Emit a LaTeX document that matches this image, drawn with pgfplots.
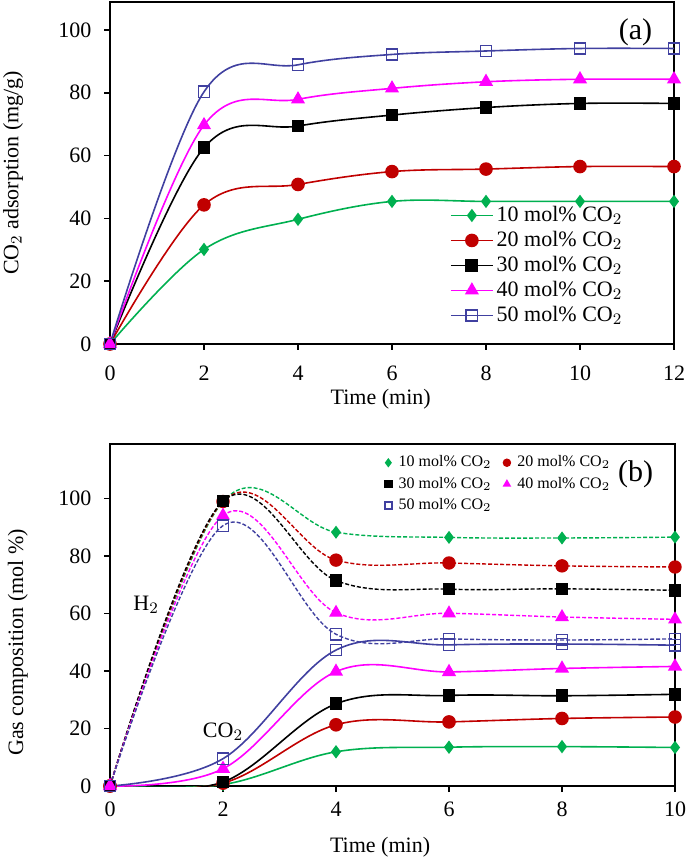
\documentclass[border=0pt]{standalone}
\usepackage{fontspec}
\setmainfont{Liberation Serif}
\usepackage{pgfplots}
\usepackage{pgfplotstable}
\pgfplotsset{compat=1.18}

\definecolor{cgreen}{RGB}{0,176,80}
\definecolor{cred}{RGB}{192,0,0}
\definecolor{cmag}{RGB}{255,0,255}
\definecolor{cblue}{RGB}{64,64,160}

% (a) CO2 adsorption, mg/g
\pgfplotstableread{
t   c10  c20  c30  c40  c50
0   0    0    0    0    0
2   30.1 44.3 62.5 69.7 80.3
4   39.7 50.8 69.4 77.9 88.9
6   45.4 54.9 72.9 81.4 92.2
8   45.4 55.7 75.3 83.5 93.3
10  45.4 56.5 76.6 84.3 94.1
12  45.4 56.5 76.6 84.3 94.1
}\adsorp

% (b) outlet CO2, mol %
\pgfplotstableread{
t   c10  c20  c30  c40  c50
0   0    0    0    0    0
2   0.5  1.0  1.4  6.0  9.5
4   11.9 21.3 28.6 39.8 47.3
6   13.5 22.3 31.5 39.7 49.1
8   13.7 23.5 31.4 40.9 49.4
10  13.4 24.0 31.9 41.6 49.0
}\gasco

% (b) outlet H2, mol %
\pgfplotstableread{
t   c10  c20  c30  c40  c50
0   0    0    0    0    0
2   99.0 99.0 99.1 94.1 90.6
4   88.3 78.6 71.5 60.3 52.8
6   86.5 77.6 68.5 60.1 51.2
8   86.3 76.6 68.6 58.8 50.8
10  86.6 76.2 68.1 58.0 51.2
}\gash

\pgfplotsset{
  panel/.style={
    scale only axis,
    width=282pt, height=171pt,
    xmin=0, ymin=0,
    axis line style={line width=0.8pt},
    tick align=outside, tick pos=left,
    major tick length=3pt,
    tick style={line width=0.8pt, black},
    ytick={0,20,...,100},
    yticklabel style={xshift=-2.5pt},
    /pgf/number format/assume math mode=true,
    ylabel style={anchor=center},
    xlabel style={anchor=center},
  },
  s10/.style={cgreen, line width=0.8pt, mark=diamond*, mark size=2.7pt, mark options={solid, fill=cgreen}},
  s20/.style={cred, line width=0.8pt, mark=*, mark size=3pt, mark options={solid, fill=cred}},
  s30/.style={black, line width=0.8pt, mark=square*, mark size=2.8pt, mark options={solid, fill=black}},
  s40/.style={cmag, line width=0.8pt, mark=triangle*, mark size=3.3pt, mark options={solid, fill=cmag}},
  s50/.style={cblue, line width=0.8pt, mark=square, mark size=2.8pt, mark options={solid, fill=white}},
  dsh/.style={dash pattern=on 2pt off 1pt, line width=0.7pt},
}

\begin{document}
\fontsize{11}{13}\selectfont
\begin{tikzpicture}
\useasboundingbox (0,0) rectangle (342.5pt,-430.5pt);

% ---------- (a) ----------
\begin{axis}[
  panel,
  at={(55pt,-1pt)}, anchor=north west,
  xmax=12, ymax=108.9,
  xtick={0,2,...,12},
  xticklabel style={yshift=-4pt},
  xlabel={Time (min)},
  ylabel={CO$_2$ adsorption (mg/g)},
  xlabel style={at={(axis description cs:0.48,-0.162)}},
  ylabel style={at={(axis description cs:-0.172,0.5)}},
  legend style={at={(0.925,0.035)}, anchor=south east, draw=none, fill=none,
    font=\fontsize{11}{12}\selectfont, row sep=0.2pt,
    nodes={inner sep=1.5pt}},
  legend cell align=left,
  legend image code/.code={
    \draw (0pt,0pt) -- (21pt,0pt);
    \draw plot coordinates {(10.5pt,0pt)};},
]
\addplot[s10, smooth, tension=0.6] table[x=t, y=c10] {\adsorp};
\addlegendentry{10 mol\% CO$_2$}
\addplot[s20, smooth, tension=0.6] table[x=t, y=c20] {\adsorp};
\addlegendentry{20 mol\% CO$_2$}
\addplot[s30, smooth, tension=0.6] table[x=t, y=c30] {\adsorp};
\addlegendentry{30 mol\% CO$_2$}
\addplot[s40, smooth, tension=0.6] table[x=t, y=c40] {\adsorp};
\addlegendentry{40 mol\% CO$_2$}
\addplot[s50, smooth, tension=0.6] table[x=t, y=c50] {\adsorp};
\addlegendentry{50 mol\% CO$_2$}
\node[anchor=north east, font=\fontsize{15}{16}\selectfont]
  at (axis description cs:0.975,0.975) {(a)};
\end{axis}

% ---------- (b) ----------
\begin{axis}[
  panel,
  at={(55pt,-222pt)}, anchor=north west,
  width=282.5pt,
  xmax=10, ymax=119,
  xtick={0,2,...,10},
  xticklabel style={yshift=-1pt},
  xlabel={Time (min)},
  ylabel={Gas composition (mol \%)},
  xlabel style={at={(axis description cs:0.478,-0.178)}},
  ylabel style={at={(axis description cs:-0.163,0.42)}},
  legend style={at={(0.9,0.985)}, anchor=north east, draw=none, fill=none,
    font=\fontsize{8}{9.5}\selectfont, row sep=1.5pt,
    nodes={inner sep=1pt},
    /tikz/every odd column/.append style={column sep=2.5pt},
    /tikz/every even column/.append style={column sep=5pt}},
  legend columns=2,
  legend cell align=left,
  legend image code/.code={
    \draw[mark size=1.7pt] plot coordinates {(0pt,0pt)};},
]
\addplot[s10, dsh, smooth, tension=0.6, forget plot] table[x=t, y=c10] {\gash};
\addplot[s20, dsh, smooth, tension=0.6, forget plot] table[x=t, y=c20] {\gash};
\addplot[s30, dsh, smooth, tension=0.6, forget plot] table[x=t, y=c30] {\gash};
\addplot[s40, dsh, smooth, tension=0.6, forget plot] table[x=t, y=c40] {\gash};
\addplot[s50, dsh, smooth, tension=0.6, forget plot] table[x=t, y=c50] {\gash};
\addplot[s10, smooth, tension=0.6] table[x=t, y=c10] {\gasco};
\addlegendentry{10 mol\% CO$_2$}
\addplot[s20, smooth, tension=0.6] table[x=t, y=c20] {\gasco};
\addlegendentry{20 mol\% CO$_2$}
\addplot[s30, smooth, tension=0.6] table[x=t, y=c30] {\gasco};
\addlegendentry{30 mol\% CO$_2$}
\addplot[s40, smooth, tension=0.6] table[x=t, y=c40] {\gasco};
\addlegendentry{40 mol\% CO$_2$}
\addplot[s50, smooth, tension=0.6] table[x=t, y=c50] {\gasco};
\addlegendentry{50 mol\% CO$_2$}
\node[font=\fontsize{11}{12}\selectfont] at (axis cs:0.64,63) {H$_2$};
\node[font=\fontsize{11}{12}\selectfont] at (axis cs:2.0,18.8) {CO$_2$};
\node[anchor=north east, font=\fontsize{15}{16}\selectfont]
  at (axis description cs:0.975,0.975) {(b)};
\end{axis}
\end{tikzpicture}
\end{document}
